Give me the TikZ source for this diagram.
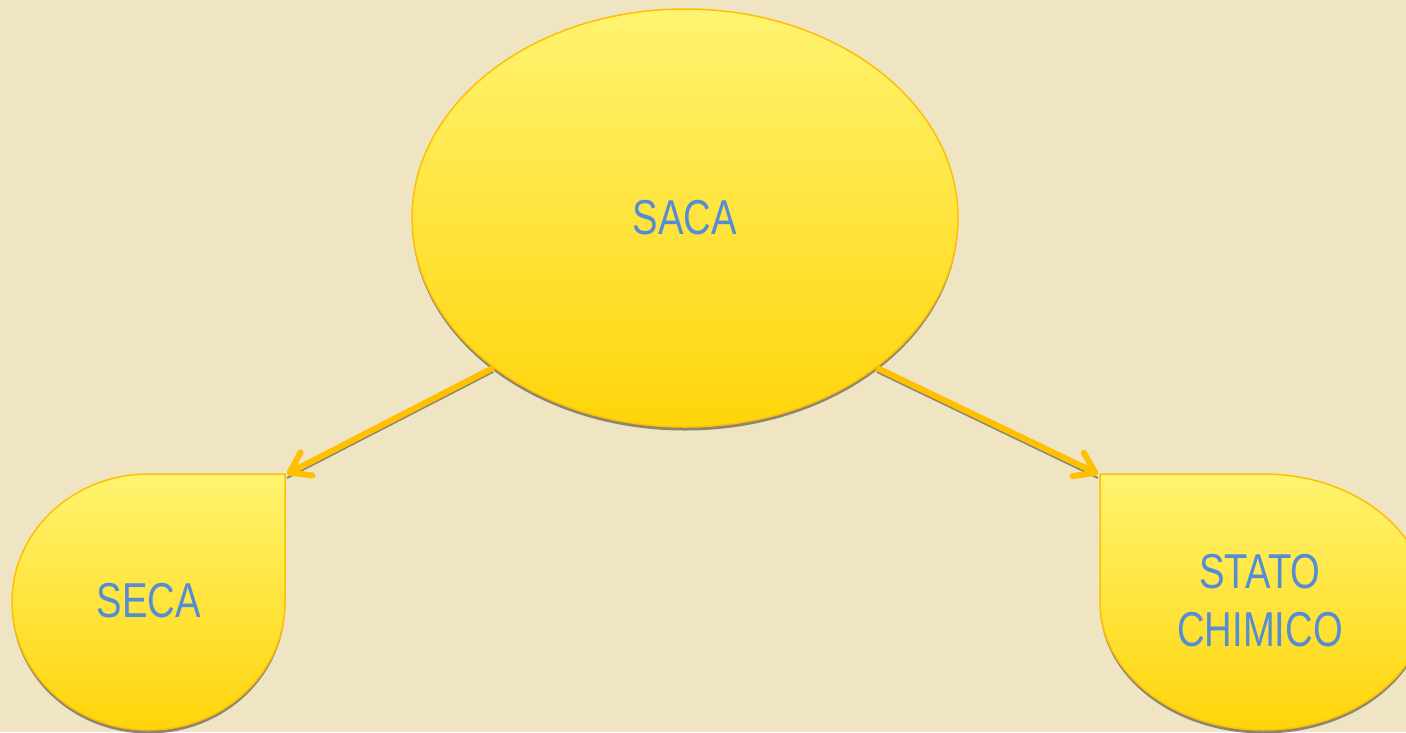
\documentclass[tikz,border=0pt]{standalone}
\usepackage{fontspec}
\setmainfont{Liberation Sans}[FakeStretch=0.78]
\usepackage{tikz}
\usetikzlibrary{calc,arrows.meta,shapes.geometric,shadows}
\definecolor{bgBeige}{RGB}{240,229,195}
\definecolor{sunTop}{RGB}{255,243,112}
\definecolor{sunBot}{RGB}{255,213,10}
\definecolor{rimOrange}{RGB}{255,192,0}
\definecolor{txtBlue}{RGB}{84,141,212}
\definecolor{shadowGrey}{RGB}{140,134,112}

\begin{document}
\begin{tikzpicture}[x=1pt,y=1pt,
		blob/.style={draw=rimOrange,line width=1.5pt,top color=sunTop,bottom color=sunBot,
			drop shadow={shadow xshift=0pt,shadow yshift=-3.5pt,fill=shadowGrey,opacity=1}},
		lbl/.style={text=txtBlue,font=\fontsize{49}{58}\selectfont,align=center,inner sep=0pt},
		link/.style={draw=rimOrange,line width=6pt,-{Straight Barb[round,length=19pt,width=26pt]}},
		linkshadow/.style={draw=shadowGrey,line width=2pt}]
			\fill[bgBeige] (0,0) rectangle (1406,-732);
			\useasboundingbox (0,0) rectangle (1406,-732);
			
			%big ellipse
			\node[blob,lbl,ellipse,minimum width=546pt,minimum height=418pt] (saca) at (685,-218) {SACA};
			
			%left drop
			\coordinate (secatip) at (287,-474);
			\path[blob] (285,-474) -- (148.5,-474) arc[start angle=90,end angle=360,x radius=136.5,y radius=128] -- cycle;
			\node[lbl] (seca) at (149,-601) {SECA};
			
			%right drop
			\coordinate (statotip) at (1098,-474);
			\path[blob] (1100,-474) -- (1263.5,-474) arc[start angle=90,end angle=-180,x radius=163.5,y radius=128] -- cycle;
			\node[lbl] (stato) at (1260,-601) {STATO\\CHIMICO};
			
			%arrows
			\foreach \a/\t in {218/secatip,322/statotip}{
				\draw[linkshadow] ([yshift=-4pt]saca.\a) -- ([yshift=-4pt]\t);
				\draw[link] (saca.\a) -- (\t);
			}
\end{tikzpicture}
\end{document}
